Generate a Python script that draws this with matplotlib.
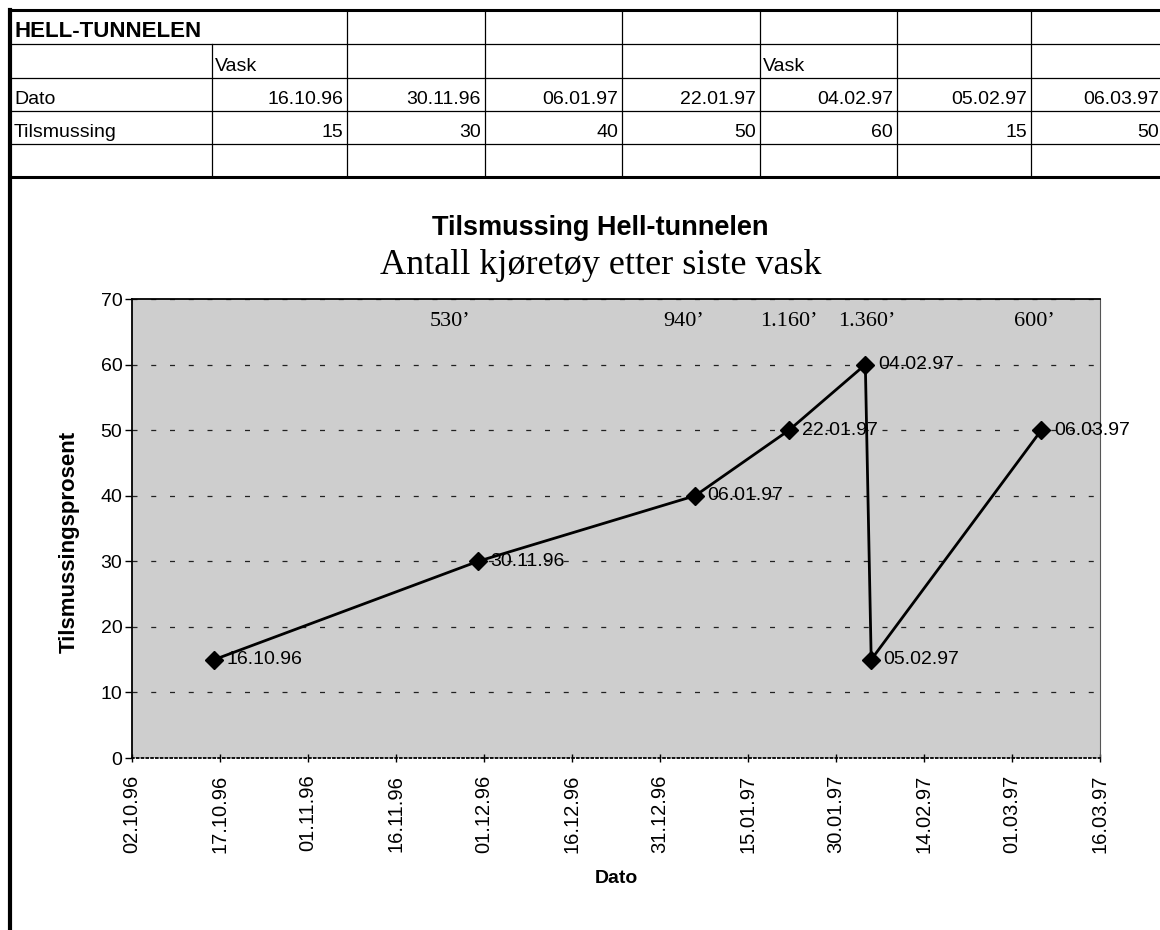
import matplotlib
matplotlib.use("Agg")
import matplotlib.pyplot as plt
import matplotlib.dates as mdates
from datetime import datetime
import pandas as pd

plt.rcParams['font.family'] = ['Liberation Sans', 'DejaVu Sans']
plt.rcParams['hatch.color'] = '#8c8c8c'
plt.rcParams['hatch.linewidth'] = 0.6
SERIF = ['Liberation Serif', 'DejaVu Serif']

# data fra regnearket
datoer = ['16.10.96', '30.11.96', '06.01.97', '22.01.97', '04.02.97', '05.02.97', '06.03.97']
tilsmussing = [15, 30, 40, 50, 60, 15, 50]
vask = ['Vask', '', '', '', 'Vask', '', '']
antall_kjoretoy = ['', '530’', '940’', '1.160’', '1.360’', '', '600’']
akse_start = '02.10.96'
akse_slutt = '16.03.97'
y_ticks = [0, 10, 20, 30, 40, 50, 60, 70]

dager = [datetime.strptime(d, '%d.%m.%y') for d in datoer]

fig = plt.figure(figsize=(11.6, 9.3), dpi=100)

# tabellen oeverst (tegnet i pikselkoordinater)
tab = fig.add_axes([0, 0, 1, 1])
tab.set_xlim(0, 1160)
tab.set_ylim(930, 0)
tab.axis('off')

kol = [12, 212, 347, 485, 622, 760, 897, 1031, 1163]
rad = [10, 44, 78, 111, 144, 177]

for i, y in enumerate(rad):
    lw = 2.2 if i in (0, len(rad) - 1) else 0.9
    tab.plot([10, 1160], [y, y], color='black', lw=lw, solid_capstyle='butt')
for j, x in enumerate(kol[1:-1]):
    y0 = rad[1] if j == 0 else rad[0]
    tab.plot([x, x], [y0, rad[-1]], color='black', lw=0.9)
tab.plot([10, 10], [rad[0], 930], color='black', lw=3)

tab.text(kol[0] + 2, rad[1] - 7, 'HELL-TUNNELEN', fontsize=16, weight='bold', va='baseline')
tab.text(kol[0] + 2, rad[3] - 7, 'Dato', fontsize=14, va='baseline')
tab.text(kol[0] + 2, rad[4] - 7, 'Tilsmussing', fontsize=14, va='baseline')
for k in range(len(datoer)):
    venstre, hoyre = kol[k + 1], kol[k + 2]
    if vask[k]:
        tab.text(venstre + 3, rad[2] - 7, vask[k], fontsize=14, va='baseline')
    tab.text(hoyre - 4, rad[3] - 7, datoer[k], fontsize=14, va='baseline', ha='right')
    tab.text(hoyre - 4, rad[4] - 7, str(tilsmussing[k]), fontsize=14, va='baseline', ha='right')

# diagrammet
ax = fig.add_axes([132 / 1160, 1 - 758 / 930, (1100 - 132) / 1160, (758 - 299) / 930])
ax.set_facecolor('#cecece')
ax.patch.set_hatch('....')

ax.plot(dager, tilsmussing, color='black', lw=2, marker='D', markersize=9, zorder=4)

for d, dag, v in zip(datoer, dager, tilsmussing):
    ax.annotate(d, (dag, v), xytext=(9, 0), textcoords='offset points',
                va='center', ha='left', fontsize=14, zorder=5)

forskyvning = [0, -20, -8, 0, 1, 0, -5]
for dag, txt, dx in zip(dager, antall_kjoretoy, forskyvning):
    if txt:
        ax.annotate(txt, (dag, 66.6), xytext=(dx, 0), textcoords='offset points',
                    ha='center', va='center', fontsize=16, family=SERIF)

ax.set_xlim(datetime.strptime(akse_start, '%d.%m.%y'), datetime.strptime(akse_slutt, '%d.%m.%y'))
ax.set_ylim(0, 70)
ax.set_xticks(pd.date_range(datetime.strptime(akse_start, '%d.%m.%y'),
                            datetime.strptime(akse_slutt, '%d.%m.%y'), freq='15D'))
ax.xaxis.set_major_formatter(mdates.DateFormatter('%d.%m.%y'))
ax.set_yticks(y_ticks)

ax.yaxis.grid(True, color='#222222', lw=0.9, linestyle=(0, (4, 11)))
ax.set_axisbelow(True)

ax.tick_params(axis='x', direction='inout', length=6, width=1, labelsize=14.5,
               labelrotation=90, pad=9)
ax.tick_params(axis='y', direction='out', length=5, width=1, labelsize=14, pad=2)

for s in ['top', 'left']:
    ax.spines[s].set_linewidth(1.3)
ax.spines['right'].set_color('#555555')
ax.spines['bottom'].set_linestyle(':')
ax.spines['bottom'].set_linewidth(1.3)

ax.set_xlabel('Dato', fontsize=14, weight='bold')
ax.xaxis.set_label_coords(0.5, -0.243)
ax.set_ylabel('Tilsmussingsprosent', fontsize=16, weight='bold')
ax.yaxis.set_label_coords(-0.054, 0.47)

fig.text(600 / 1160, 1 - 228 / 930, 'Tilsmussing Hell-tunnelen', ha='center', va='center',
         fontsize=19.5, weight='bold')
fig.text(601 / 1160, 1 - 266 / 930, 'Antall kjøretøy etter siste vask', ha='center', va='center',
         fontsize=26, family=SERIF)

fig.savefig('out.png', dpi=100)
